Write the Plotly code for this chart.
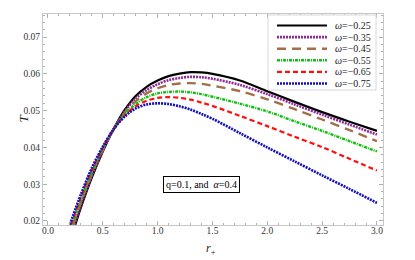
import plotly.graph_objects as go

# r_+ values and temperature T for each omega
r_black = [0.25, 0.3, 0.4, 0.5, 0.6, 0.7, 0.8, 0.9, 1.0, 1.1, 1.2, 1.3, 1.4, 1.5, 1.75, 2.0, 2.25, 2.5, 2.75, 3.0]
T_black = [0.0190, 0.0236, 0.0318, 0.0389, 0.0451, 0.0502, 0.0540, 0.0565, 0.0582, 0.0594, 0.0601, 0.0605, 0.0604, 0.0600, 0.0582, 0.0553, 0.0524, 0.0496, 0.0470, 0.0445]

r_purple = [0.24, 0.3, 0.4, 0.5, 0.6, 0.7, 0.8, 0.9, 1.0, 1.1, 1.2, 1.3, 1.4, 1.5, 1.75, 2.0, 2.25, 2.5, 2.75, 3.0]
T_purple = [0.0190, 0.0243, 0.0323, 0.0391, 0.0450, 0.0498, 0.0533, 0.0556, 0.0572, 0.0583, 0.0589, 0.0592, 0.0591, 0.0587, 0.0570, 0.0545, 0.0517, 0.0489, 0.0462, 0.0435]

r_brown = [0.23, 0.3, 0.4, 0.5, 0.6, 0.7, 0.8, 0.9, 1.0, 1.1, 1.2, 1.3, 1.4, 1.5, 1.75, 2.0, 2.25, 2.5, 2.75, 3.0]
T_brown = [0.0190, 0.0250, 0.0328, 0.0394, 0.0450, 0.0494, 0.0526, 0.0547, 0.0561, 0.0570, 0.0574, 0.0575, 0.0573, 0.0568, 0.0553, 0.0531, 0.0504, 0.0476, 0.0447, 0.0417]

r_green = [0.22, 0.3, 0.4, 0.5, 0.6, 0.7, 0.8, 0.9, 1.0, 1.1, 1.2, 1.3, 1.4, 1.5, 1.75, 2.0, 2.25, 2.5, 2.75, 3.0]
T_green = [0.0190, 0.0257, 0.0333, 0.0397, 0.0450, 0.0490, 0.0518, 0.0537, 0.0547, 0.0551, 0.0552, 0.0550, 0.0545, 0.0538, 0.0519, 0.0498, 0.0471, 0.0445, 0.0417, 0.0389]

r_red = [0.21, 0.3, 0.4, 0.5, 0.6, 0.7, 0.8, 0.9, 1.0, 1.1, 1.2, 1.3, 1.4, 1.5, 1.75, 2.0, 2.25, 2.5, 2.75, 3.0]
T_red = [0.0190, 0.0264, 0.0338, 0.0399, 0.0450, 0.0487, 0.0512, 0.0527, 0.0535, 0.0537, 0.0535, 0.0530, 0.0522, 0.0513, 0.0486, 0.0458, 0.0429, 0.0401, 0.0369, 0.0337]

r_blue = [0.2, 0.3, 0.4, 0.5, 0.6, 0.7, 0.8, 0.9, 1.0, 1.1, 1.2, 1.3, 1.4, 1.5, 1.75, 2.0, 2.25, 2.5, 2.75, 3.0]
T_blue = [0.0190, 0.0272, 0.0344, 0.0402, 0.0450, 0.0484, 0.0506, 0.0517, 0.0520, 0.0518, 0.0512, 0.0503, 0.0491, 0.0478, 0.0439, 0.0400, 0.0362, 0.0324, 0.0287, 0.0249]

labels = ["−0.25", "−0.35", "−0.45", "−0.55", "−0.65", "−0.75"]
x_ticks = [0.0, 0.5, 1.0, 1.5, 2.0, 2.5, 3.0]
y_ticks = [0.02, 0.03, 0.04, 0.05, 0.06, 0.07]

series = [
    (r_black, T_black, "black", "solid", 2.2),
    (r_purple, T_purple, "#8E2A98", "2px,1px", 2.6),
    (r_brown, T_brown, "#A07048", "9px,6px", 2.4),
    (r_green, T_green, "#10C010", "3px,1px,1px,1px", 2.4),
    (r_red, T_red, "#FF1010", "5px,3px", 2.2),
    (r_blue, T_blue, "#1010C0", "2px,1px", 2.6),
]

# figure geometry (page body adds an 8px offset, so the figure is 8px smaller)
W, H = 407, 252
L, R, TOP, B = 35, 32, 6, 35
# plot area in screen pixels: x 43..383, y 14..225


def px(x):
    return (x - 43) / 340


def py(y):
    return (225 - y) / 211


fig = go.Figure()
for (xs, ys, col, dash, w), lab in zip(series, labels):
    fig.add_trace(go.Scatter(
        x=xs, y=ys, mode="lines",
        line=dict(color=col, dash=dash, width=w, shape="spline", smoothing=0.9),
        name="<i>ω</i>=" + lab, showlegend=False,
    ))

# legend box
fig.add_shape(type="rect", xref="paper", yref="paper",
              x0=px(268), x1=px(376), y0=py(90), y1=py(15),
              line=dict(color="#D8D8D8", width=1), fillcolor="white", layer="above")
for i, ((xs, ys, col, dash, w), lab) in enumerate(zip(series, labels)):
    yy = 25.5 + i * 11.6
    fig.add_shape(type="line", xref="paper", yref="paper",
                  x0=px(277), x1=px(327), y0=py(yy), y1=py(yy),
                  line=dict(color=col, dash=dash, width=w), layer="above")
    fig.add_annotation(x=px(333), y=py(yy), xref="paper", yref="paper",
                       xanchor="left", yanchor="middle", showarrow=False,
                       text="<i>ω</i>=" + lab,
                       font=dict(family="Liberation Serif", size=10, color="#222"))

fig.add_annotation(
    x=1.40, y=0.0298, xref="x", yref="y",
    text="q=0.1, and  <i>α</i>=0.4", showarrow=False,
    font=dict(family="Liberation Serif", size=10, color="black"),
    bordercolor="black", borderwidth=1, borderpad=2, bgcolor="white",
)

# axis titles
fig.add_annotation(x=px(13), y=py(118), xref="paper", yref="paper", showarrow=False,
                   textangle=-90,
                   text="<i>T</i>", font=dict(family="Liberation Serif", size=13, color="#222"))
fig.add_annotation(x=px(211), y=py(239), xref="paper", yref="paper", showarrow=False,
                   yanchor="top",
                   text="<i>r</i><sub>+</sub>", font=dict(family="Liberation Serif", size=12, color="#222"))

axis_common = dict(
    showgrid=False, zeroline=False, showline=True, linecolor="#C8C8C8", linewidth=1,
    mirror="allticks", ticks="inside", ticklen=4, tickcolor="#B0B0B0", tickwidth=1,
    tickfont=dict(family="Liberation Serif", size=9.5, color="#333333"),
)

fig.update_xaxes(
    range=[-0.045, 3.055], tickvals=x_ticks, ticktext=[f"{v:.1f}" for v in x_ticks],
    minor=dict(ticks="inside", ticklen=2, dtick=0.1, tick0=0, tickcolor="#B0B0B0"),
    ticklabelstandoff=-3,
    **axis_common,
)
fig.update_yaxes(
    range=[0.0189, 0.0763], tickvals=y_ticks, ticktext=[f"{v:.2f}" for v in y_ticks],
    minor=dict(ticks="inside", ticklen=2, dtick=0.002, tick0=0.0, tickcolor="#B0B0B0"),
    **axis_common,
)

fig.update_layout(
    width=W, height=H, margin=dict(l=L, r=R, t=TOP, b=B),
    paper_bgcolor="white", plot_bgcolor="white",
    showlegend=False,
)

fig.write_html("out.html")
